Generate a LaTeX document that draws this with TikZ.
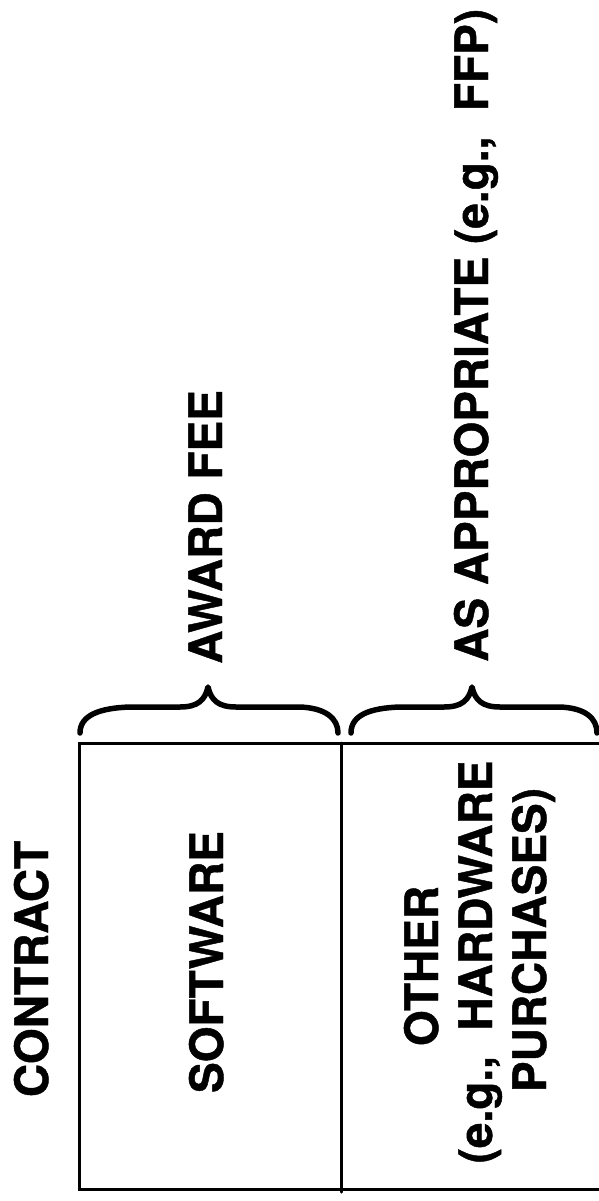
\documentclass[tikz,border=0pt]{standalone}
\usepackage{fontspec}
\setmainfont{TeX Gyre Heros}[BoldFeatures={FakeBold=1}]
\begin{document}
\begin{tikzpicture}[x=1pt,y=-1pt,
  lbl/.style={font=\fontsize{46}{55}\selectfont\bfseries, inner sep=0pt, rotate=90},
  boxline/.style={line width=3pt, line cap=round},
  bracestyle/.style={line width=5.5pt, line cap=round, line join=round}]
\useasboundingbox (0,0) rectangle (599,1201);
% box
\coordinate (tl) at (79,743);
\coordinate (bl) at (79,1189);
\coordinate (tm) at (341,743);
\coordinate (bm) at (341,1192);
\coordinate (tr) at (599,743);
\coordinate (br) at (599,1189);
\draw[boxline] (tr) -- (tl) -- (bl) -- (br);
\draw[boxline] (tm) -- (bm);
% braces
\coordinate (b1l) at (80,733);
\coordinate (b1t) at (208,687);
\coordinate (b1r) at (338,733);
\draw[bracestyle] (b1l) .. controls (80,715) and (100,708) .. (130,707) -- (180,707)
  .. controls (198,707) and (205,700) .. (b1t)
  .. controls (211,700) and (218,707) .. (236,707) -- (300,707)
  .. controls (325,708) and (338,718) .. (b1r);
\coordinate (b2l) at (351,733);
\coordinate (b2t) at (472,687);
\coordinate (b2r) at (597,733);
\draw[bracestyle] (b2l) .. controls (351,715) and (370,708) .. (400,707) -- (444,707)
  .. controls (462,707) and (469,700) .. (b2t)
  .. controls (475,700) and (482,707) .. (500,707) -- (560,707)
  .. controls (585,708) and (597,718) .. (b2r);
% labels
\node[lbl, anchor=base] (contract) at (48,969) {CONTRACT};
\node[lbl, anchor=base] (software) at (223,962) {SOFTWARE};
\node[lbl, anchor=base] (other1) at (438,966) {OTHER};
\node[lbl, anchor=base] (other2) at (492,962) {(e.g.,\ \ HARDWARE};
\node[lbl, anchor=base] (other3) at (546,940) {PURCHASES)};
\node[lbl, anchor=base west] (award) at (222,664) {AWARD FEE};
\node[lbl, anchor=base west] (approp) at (488,662) {AS APPROPRIATE (e.g.,\ \ FFP)};
\end{tikzpicture}
\end{document}
